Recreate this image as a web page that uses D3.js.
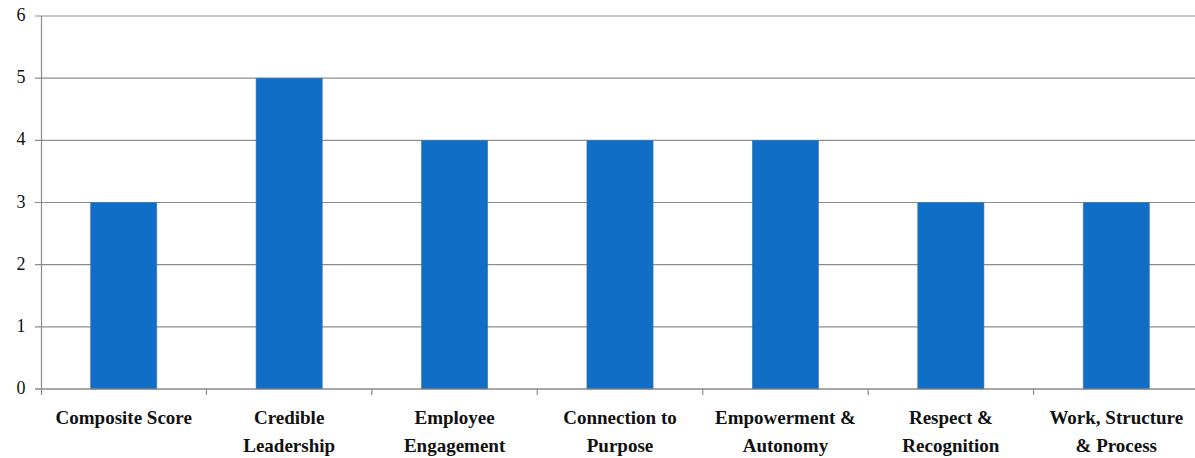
<!DOCTYPE html>
<html>
<head>
<script src="https://d3js.org/d3.v7.min.js"></script>
<style>
body { margin: 0; background: white; }
svg { display: block; }
</style>
</head>
<body>
<svg width="1195" height="458"></svg>
<script>
const categories = ["Composite Score", "Credible Leadership", "Employee Engagement", "Connection to Purpose", "Empowerment & Autonomy", "Respect & Recognition", "Work, Structure & Process"];
const labelLines = [["Composite Score"], ["Credible", "Leadership"], ["Employee", "Engagement"], ["Connection to", "Purpose"], ["Empowerment &", "Autonomy"], ["Respect &", "Recognition"], ["Work, Structure", "& Process"]];
const scores = [3, 5, 4, 4, 4, 3, 3];
const yTicks = [0, 1, 2, 3, 4, 5, 6];

const svg = d3.select("svg");
const plotLeft = 41, plotRight = 1199, plotTop = 16, plotBottom = 389;
const serif = "'Liberation Serif', 'Times New Roman', 'DejaVu Serif', serif";

const x = d3.scaleBand()
    .domain(categories)
    .range([plotLeft, plotRight])
    .paddingInner(0.6)
    .paddingOuter(0.3);

const y = d3.scaleLinear()
    .domain([0, 6])
    .range([plotBottom, plotTop]);

// gridlines
svg.append("g")
    .selectAll("line")
    .data(yTicks)
    .enter()
    .append("line")
    .attr("x1", plotLeft - 6)
    .attr("x2", 1195)
    .attr("y1", d => y(d))
    .attr("y2", d => y(d))
    .attr("stroke", "#8c8c8c")
    .attr("stroke-width", 1.2);

// y tick labels
svg.append("g")
    .selectAll("text")
    .data(yTicks)
    .enter()
    .append("text")
    .attr("x", 21)
    .attr("y", d => y(d) + 1)
    .attr("text-anchor", "middle")
    .attr("dominant-baseline", "middle")
    .style("font-family", serif)
    .style("font-size", "18px")
    .style("fill", "#111")
    .text(d => d);

// bars
svg.append("g")
    .selectAll("rect")
    .data(categories)
    .enter()
    .append("rect")
    .attr("x", d => x(d))
    .attr("y", (d, i) => y(scores[i]))
    .attr("width", x.bandwidth())
    .attr("height", (d, i) => plotBottom - y(scores[i]))
    .attr("fill", "#116ec6")
    .attr("stroke", "#4b78a6")
    .attr("stroke-width", 0.6);

// y axis line
svg.append("line")
    .attr("x1", plotLeft + 0.5).attr("x2", plotLeft + 0.5)
    .attr("y1", plotTop).attr("y2", plotBottom + 6)
    .attr("stroke", "#8c8c8c")
    .attr("stroke-width", 1.2);

// x axis line on top of bars
svg.append("line")
    .attr("x1", plotLeft - 6).attr("x2", 1195)
    .attr("y1", plotBottom).attr("y2", plotBottom)
    .attr("stroke", "#8c8c8c")
    .attr("stroke-width", 1.2);

// category tick marks
const step = x.step();
svg.append("g")
    .selectAll("line")
    .data(categories.slice(1))
    .enter()
    .append("line")
    .attr("x1", d => x(d) - x.paddingInner() * step / 2)
    .attr("x2", d => x(d) - x.paddingInner() * step / 2)
    .attr("y1", plotBottom)
    .attr("y2", plotBottom + 6)
    .attr("stroke", "#8c8c8c")
    .attr("stroke-width", 1.2);

// category labels
const lab = svg.append("g")
    .selectAll("text")
    .data(categories)
    .enter()
    .append("text")
    .attr("text-anchor", "middle")
    .style("font-family", serif)
    .style("font-weight", "bold")
    .style("font-size", "19px")
    .style("fill", "#111");

lab.each(function(d, i) {
    const t = d3.select(this);
    labelLines[i].forEach((line, k) => {
        t.append("tspan")
            .attr("x", x(d) + x.bandwidth() / 2)
            .attr("y", 424 + k * 28)
            .text(line);
    });
});
</script>
</body>
</html>
